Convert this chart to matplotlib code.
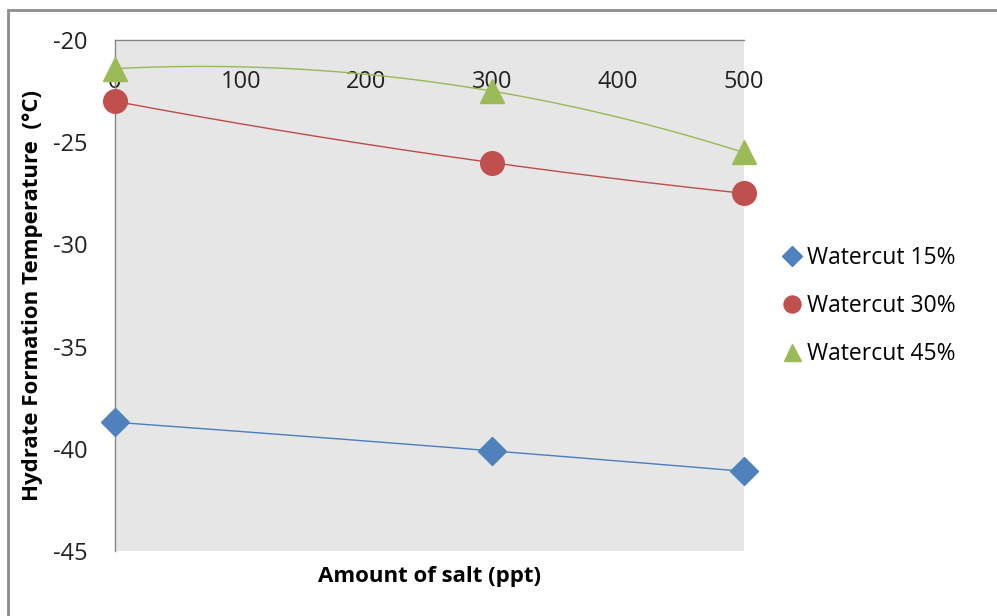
import matplotlib.pyplot as plt
from matplotlib.patches import Rectangle
import numpy as np

plt.rcParams['font.family'] = ['Open Sans', 'DejaVu Sans']
plt.rcParams['axes.unicode_minus'] = False

salt = [0, 300, 500]
wc15 = [-38.7, -40.1, -41.1]
wc30 = [-23.0, -26.0, -27.5]
wc45 = [-21.4, -22.5, -25.5]
labels = ['Watercut 15%', 'Watercut 30%', 'Watercut 45%']


def smooth(x, y):
    # curve through the points, like the smoothed line option in a spreadsheet
    coef = np.polyfit(x, y, len(x) - 1)
    xs = np.linspace(min(x), max(x), 200)
    return xs, np.polyval(coef, xs)


fig = plt.figure(figsize=(9.97, 6.16), dpi=100)
ax = fig.add_axes([115 / 997, 65 / 616, 628.5 / 997, 511 / 616])
ax.set_facecolor('#e6e6e6')

series = [
    (wc15, '#4f81bd', '#4a7ebb', 'D', 14),
    (wc30, '#c0504d', '#be4b48', 'o', 17),
    (wc45, '#9bbb59', '#98b954', '^', 17),
]
for (vals, mc, lc, mk, ms), lab in zip(series, labels):
    xs, ys = smooth(salt, vals)
    ax.plot(xs, ys, color=lc, lw=1, zorder=2)
    ax.plot(salt, vals, linestyle='none', marker=mk, markersize=ms,
            color=mc, label=lab, zorder=3, clip_on=False)

ax.set_xlim(0, 500)
ax.set_ylim(-45, -20)
ax.set_xticks([0, 100, 200, 300, 400, 500])
ax.set_yticks([-45, -40, -35, -30, -25, -20])
ax.xaxis.set_ticks_position('top')
ax.tick_params(axis='x', labeltop=True, labelbottom=False, length=0,
               pad=-39, labelsize=17, colors='#222222')
ax.tick_params(axis='y', length=0, pad=20, labelsize=17, colors='#222222')

for side in ['right', 'bottom']:
    ax.spines[side].set_visible(False)
for side in ['left', 'top']:
    ax.spines[side].set_color('#868686')
    ax.spines[side].set_linewidth(1)

ax.set_xlabel('Amount of salt (ppt)', fontsize=16, fontweight='bold', labelpad=11)
ax.set_ylabel('Hydrate Formation Temperature  (°C)', fontsize=16,
              fontweight='bold')
ax.yaxis.set_label_coords(-0.1146, 0.5)

ax.legend(loc='center left', bbox_to_anchor=(1.03, 0.48), frameon=False,
          fontsize=16.5, handlelength=0.8, handletextpad=0.25, labelspacing=1.05,
          markerscale=0.72)

fig.patches.append(Rectangle((8 / 997, -0.05), 1.1, 1.05 - 10 / 616,
                             transform=fig.transFigure, fill=False,
                             edgecolor='#8c8c8c', linewidth=2))

fig.savefig('out.png', dpi=100)
